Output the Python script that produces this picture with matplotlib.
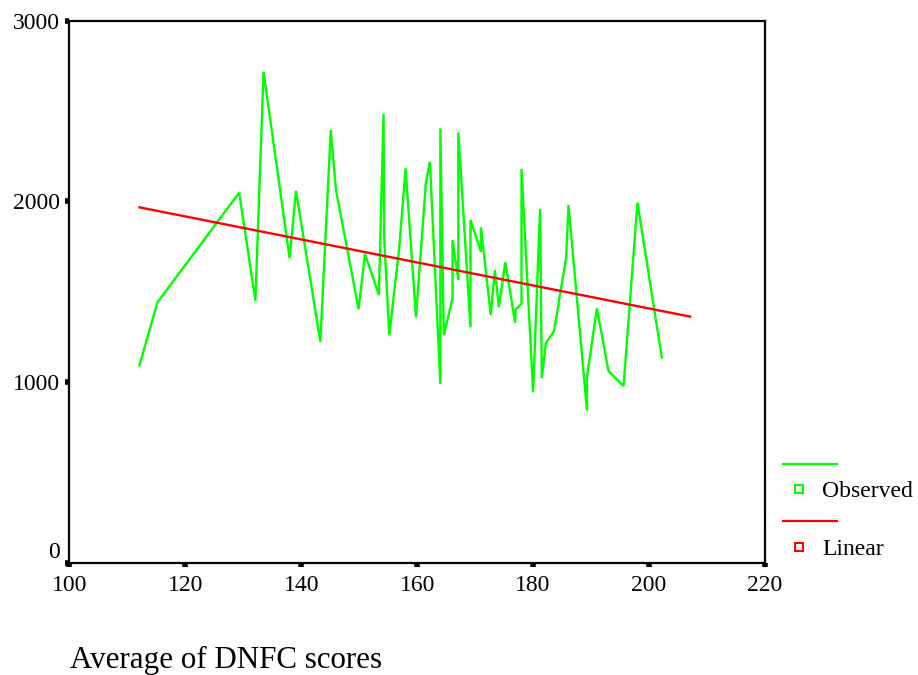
import matplotlib
matplotlib.use("Agg")
import matplotlib.pyplot as plt
from matplotlib.lines import Line2D

# Observed series
dnfc_avg = [112.1, 115.2, 129.3, 132.1, 133.5, 138.0, 139.1, 143.3, 145.1, 146.0,
            149.9, 151.0, 153.4, 154.2, 154.3, 155.2, 156.9, 158.0, 159.8, 161.5,
            162.2, 164.0, 164.0, 164.6, 166.1, 166.1, 167.1, 167.1, 169.2, 169.2,
            171.0, 171.0, 172.7, 173.4, 174.1, 175.2, 176.9, 177.0, 178.0, 178.0,
            180.0, 181.2, 181.5, 182.2, 183.6, 185.7, 186.1, 189.3, 189.3, 191.0,
            193.0, 195.6, 198.0, 202.2]
observed = [1093, 1441, 2048, 1450, 2718, 1685, 2059, 1223, 2395, 2063,
            1403, 1709, 1482, 2484, 1804, 1260, 1740, 2183, 1358, 2103,
            2219, 989, 2404, 1260, 1463, 1786, 1565, 2382, 1303, 1897,
            1721, 1856, 1371, 1620, 1414, 1663, 1328, 1403, 1432, 2179,
            943, 1958, 1022, 1216, 1281, 1689, 1980, 842, 1030, 1408,
            1061, 978, 1993, 1135]

# Linear fit line endpoints
linear_x = [112.1, 207.1]
linear_y = [1967, 1362]

x_ticks = [100, 120, 140, 160, 180, 200, 220]
y_ticks = [0, 1000, 2000, 3000]

serif = ["Liberation Serif", "DejaVu Serif"]
plt.rcParams["font.family"] = serif

fig = plt.figure(figsize=(9.18, 6.75), dpi=100)
W, H = 918, 675
ax = fig.add_axes([69.3 / W, 1 - 562.7 / H, (765 - 69.3) / W, (562.7 - 20.7) / H])

green = "#00ff00"
red = "#ff0000"
ax.plot(dnfc_avg, observed, color=green, lw=1.7, solid_joinstyle="miter")
ax.plot(linear_x, linear_y, color=red, lw=1.7)

ax.set_xlim(100, 220)
ax.set_ylim(0, 3000)
ax.set_xticks(x_ticks)
ax.set_yticks(y_ticks)
ax.set_xticklabels([str(v) for v in x_ticks])
ax.set_yticklabels([str(v) for v in y_ticks])
ax.tick_params(axis="both", direction="out", length=3, width=4, labelsize=17,
               colors="black", pad=4)
ax.tick_params(axis="x", pad=6)
for s in ax.spines.values():
    s.set_linewidth(1.6)
    s.set_color("black")
# lift the "0" label slightly above its tick as in the reference
for lbl in ax.get_yticklabels():
    if lbl.get_text() == "0":
        lbl.set_va("bottom")

# Manual legend outside right
def px(x, y):
    return x / W, 1 - y / H

for (ly, my, col, txt) in [(464.3, 488.5, green, "Observed"), (521, 546.5, red, "Linear")]:
    x0, y0 = px(782.7, ly)
    x1, _ = px(836.7, ly)
    fig.add_artist(Line2D([x0, x1], [y0, y0], color=col, lw=1.6, transform=fig.transFigure))
    mx, myy = px(799.3, my)
    fig.add_artist(Line2D([mx], [myy], marker="s", markersize=5.5, markerfacecolor="white",
                          markeredgecolor=col, markeredgewidth=1.5, linestyle="none",
                          transform=fig.transFigure))
    tx, ty = px(822, my + 3)
    fig.text(tx, ty, txt, fontsize=17, va="center", ha="left")

ax_lab_x, ax_lab_y = px(70, 660)
fig.text(ax_lab_x, ax_lab_y, "Average of DNFC scores", fontsize=22.3, va="center", ha="left")

fig.savefig("out.png", dpi=100, facecolor="white")
